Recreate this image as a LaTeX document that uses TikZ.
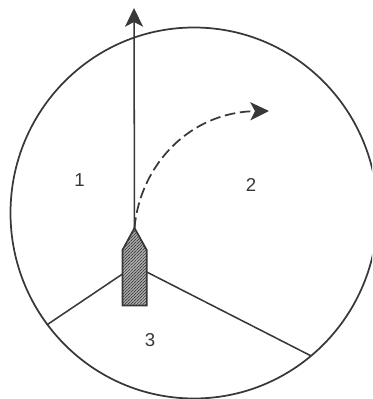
\documentclass[tikz,border=0pt]{standalone}
\usepackage{fontspec}
\setmainfont{Liberation Sans}
\usetikzlibrary{arrows.meta,patterns.meta}
\definecolor{ink}{gray}{0.22}
\tikzset{
  line/.style={draw=ink,line width=1.15pt},
  lab/.style={text=ink,font=\fontsize{14}{16}\selectfont,inner sep=0pt},
  head/.style={-{Stealth[length=14pt,width=13.5pt,inset=3.5pt]}}
}
\begin{document}
\begin{tikzpicture}[x=0.75pt,y=-0.75pt]
\useasboundingbox (0,0) rectangle (372,399);
\clip (0,0) rectangle (372,399);
\coordinate (c) at (194,213);
\coordinate (tip) at (134.5,228);
\coordinate (sl) at (122.5,250);
\coordinate (sr) at (146.7,250);
\coordinate (bl) at (122.5,305.5);
\coordinate (br) at (146.7,305.5);
\coordinate (pl) at (122.5,274);
\coordinate (pr) at (146.7,272);
\coordinate (el) at (46.7,325);
\coordinate (er) at (310.7,355.7);
\coordinate (top) at (134,8);
\coordinate (end) at (269,111);
\draw[line,line width=1.3pt] (c) ellipse [x radius=183.5*0.75pt,y radius=185.5*0.75pt];
\draw[line] (pl) -- (el);
\draw[line] (pr) -- (er);
\draw[line,head] (tip) -- (top);
\draw[line,line width=1.3pt,head,dash pattern=on 8pt off 3.5pt] (tip) .. controls (140,165) and (190,112) .. (end);
\filldraw[draw=ink,line width=1.3pt,fill=gray!60,postaction={pattern={Lines[angle=45,distance=1.6pt,line width=0.5pt]},pattern color=ink}] (tip) -- (sr) -- (br) -- (bl) -- (sl) -- cycle;
\node[lab] (n1) at (79.5,180) {1};
\node[lab] (n2) at (251,184.5) {2};
\node[lab] (n3) at (150,340) {3};
\end{tikzpicture}
\end{document}
